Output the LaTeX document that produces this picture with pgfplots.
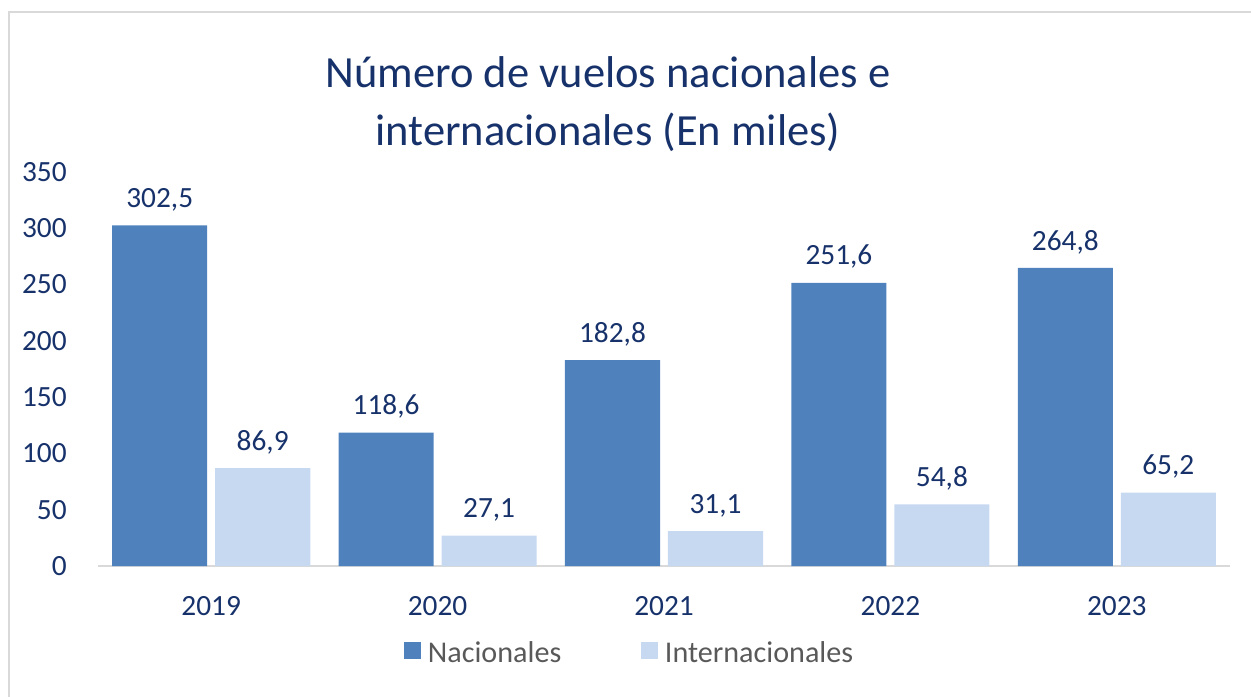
\documentclass[border=0pt]{standalone}
\usepackage{fontspec}
\setmainfont{Carlito}
\usepackage{pgfplots}
\pgfplotsset{compat=1.18}

\definecolor{navytxt}{HTML}{17326B}
\definecolor{nacional}{HTML}{4F81BD}
\definecolor{internac}{HTML}{C6D9F1}
\definecolor{framegray}{HTML}{D9D9D9}
\definecolor{legtxt}{HTML}{595959}

\begin{document}
\begin{tikzpicture}
% page = 1251 x 696 px, 1 px = 0.75pt, origin top left
\useasboundingbox (0pt,0pt) rectangle (938.25pt,-522pt);
\draw[framegray, line width=1.5pt] (6.75pt,-523pt) -- (6.75pt,-9pt) -- (940pt,-9pt);

\node[navytxt, align=center, font=\fontsize{33.4}{43}\selectfont] at (456pt,-78pt)
  {Número de vuelos nacionales e\\internacionales (En miles)};

\begin{axis}[
  at={(73.5pt,-424.5pt)}, anchor=south west,
  scale only axis, width=849pt, height=295.5pt,
  ybar, bar width=0.42,
  xmin=-0.5, xmax=4.5, ymin=0, ymax=350,
  xtick=data, xticklabels={2019,2020,2021,2022,2023},
  ytick={0,50,...,350},
  axis lines*=left,
  x axis line style={framegray, line width=1.1pt},
  y axis line style={draw=none},
  tick style={draw=none},
  font=\fontsize{22}{26}\selectfont,
  tick label style={navytxt},
  /pgf/number format/assume math mode=true,
  /pgf/number format/use comma,
  yticklabel style={anchor=east, xshift=-20pt},
  xticklabel style={yshift=-15pt},
  nodes near coords,
  nodes near coords style={navytxt, yshift=7pt,
    /pgf/number format/fixed, /pgf/number format/fixed zerofill,
    /pgf/number format/precision=1},
  legend style={at={(0.47,-0.221)}, anchor=center, draw=none, fill=none,
    legend columns=-1, text=legtxt, font=\fontsize{22.6}{26}\selectfont,
    /tikz/every even column/.append style={column sep=58pt}},
  legend image code/.code={\fill[#1] (0pt,-4.6pt) rectangle (12.75pt,8.15pt); \path (15.75pt,0pt);},
  clip=false,
]
\addplot[fill=nacional, draw=none, bar shift=-0.2275] coordinates
  {(0,302.5) (1,118.6) (2,182.8) (3,251.6) (4,264.8)};
\addplot[fill=internac, draw=none, bar shift=0.2275] coordinates
  {(0,86.9) (1,27.1) (2,31.1) (3,54.8) (4,65.2)};
\legend{Nacionales, Internacionales}
\end{axis}
\end{tikzpicture}
\end{document}
